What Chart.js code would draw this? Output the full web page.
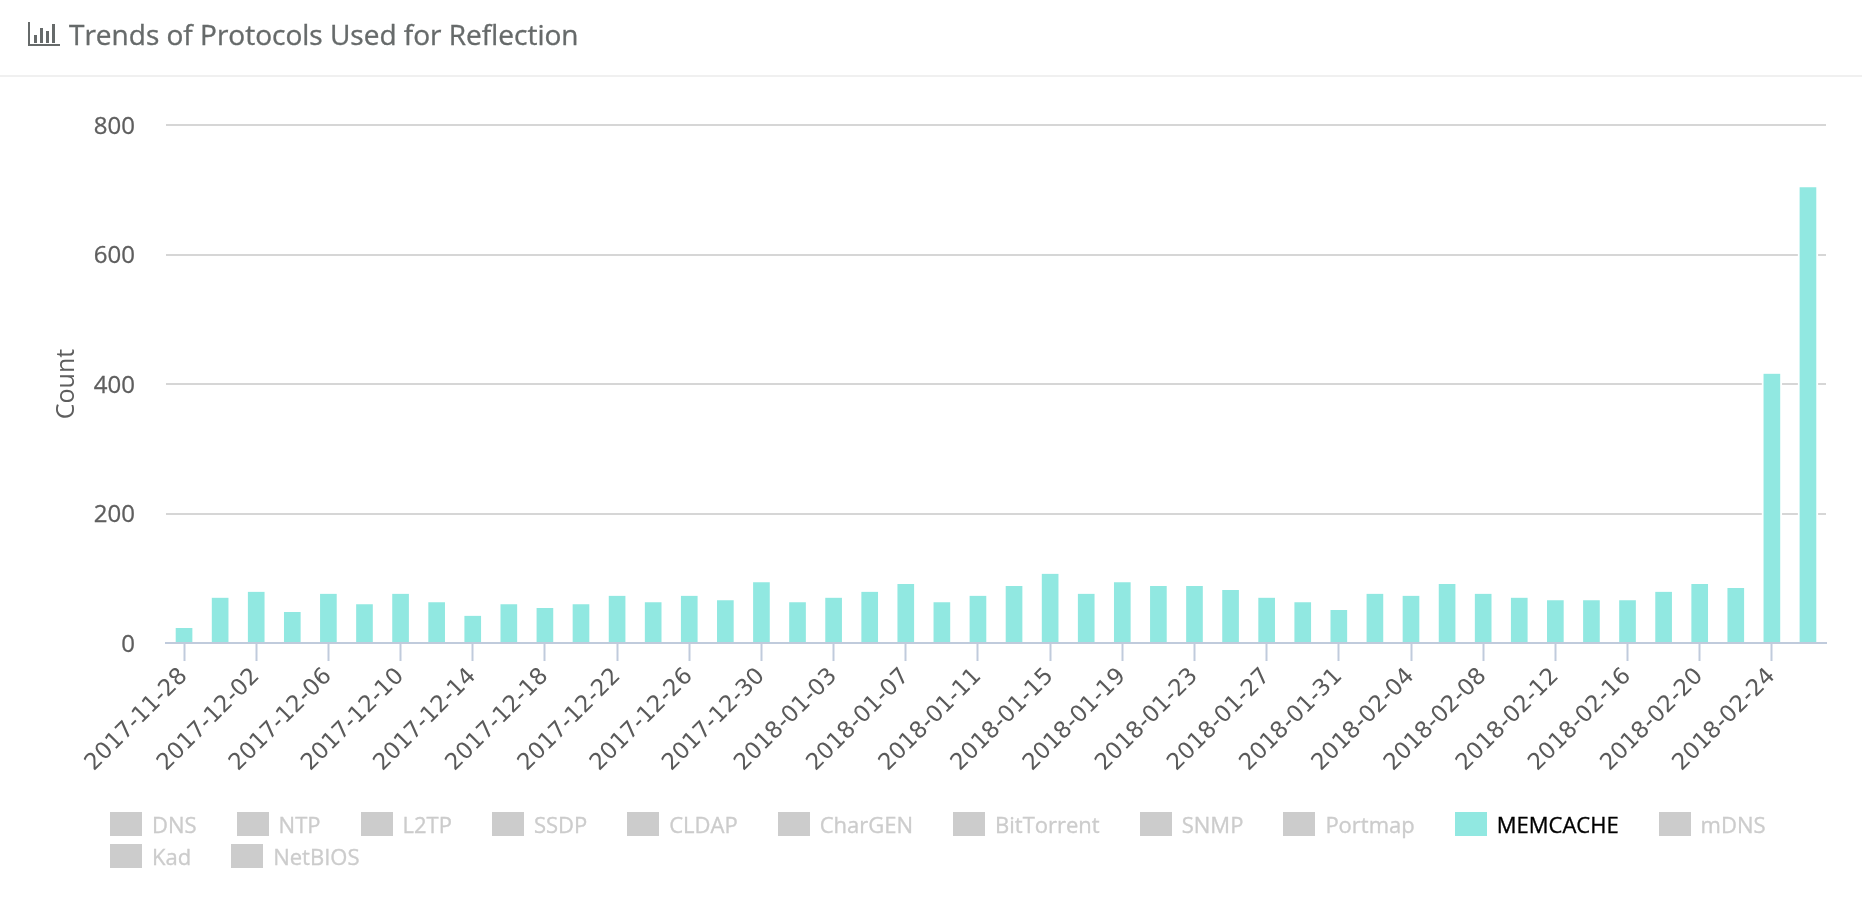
<!DOCTYPE html>
<html>
<head>
<meta charset="utf-8">
<script src="https://cdn.jsdelivr.net/npm/chart.js@4"></script>
<style>
html,body{margin:0;padding:0;background:#fff;width:1862px;height:922px;overflow:hidden;font-family:"Open Sans",sans-serif}
#header{position:absolute;left:0;top:0;width:1862px;height:75px;border-bottom:2px solid #f0f0f0;box-sizing:content-box}
#header svg{position:absolute;left:28px;top:22px}
#header h1{position:absolute;left:69px;top:14px;margin:0;font-size:28px;line-height:40px;font-weight:400;color:#666a6a;white-space:nowrap;-webkit-text-stroke:0.35px #666a6a}
#wrap{position:absolute;left:0;top:0;width:1862px;height:922px}
#legend{position:absolute;left:110px;top:812px;width:1700px;display:flex;flex-wrap:wrap;row-gap:4px}
.item{display:flex;align-items:center;height:24px;margin-right:40px;font-size:22px;white-space:nowrap;-webkit-text-stroke:0.35px currentColor}
.item i{display:block;width:32px;height:24px;margin-right:10px}
</style>
</head>
<body>
<div id="wrap"><canvas id="c" width="1862" height="922"></canvas></div>
<div id="header">
<svg width="32" height="24" viewBox="0 0 32 24"><path d="M1 0V23H32" fill="none" stroke="#666a6a" stroke-width="2"/><rect x="6" y="13" width="3" height="8" fill="#666a6a"/><rect x="12" y="6" width="3" height="15" fill="#666a6a"/><rect x="18" y="9" width="3" height="12" fill="#666a6a"/><rect x="24" y="2" width="3" height="19" fill="#666a6a"/></svg>
<h1>Trends of Protocols Used for Reflection</h1>
</div>
<div id="legend"></div>
<script>
const titleText = "Trends of Protocols Used for Reflection";
const protocols = ["DNS","NTP","L2TP","SSDP","CLDAP","CharGEN","BitTorrent","SNMP","Portmap","MEMCACHE","mDNS","Kad","NetBIOS"];
const activeProtocol = "MEMCACHE";
const dates = ["2017-11-28","2017-11-30","2017-12-02","2017-12-04","2017-12-06","2017-12-08","2017-12-10","2017-12-12","2017-12-14","2017-12-16","2017-12-18","2017-12-20","2017-12-22","2017-12-24","2017-12-26","2017-12-28","2017-12-30","2018-01-01","2018-01-03","2018-01-05","2018-01-07","2018-01-09","2018-01-11","2018-01-13","2018-01-15","2018-01-17","2018-01-19","2018-01-21","2018-01-23","2018-01-25","2018-01-27","2018-01-29","2018-01-31","2018-02-02","2018-02-04","2018-02-06","2018-02-08","2018-02-10","2018-02-12","2018-02-14","2018-02-16","2018-02-18","2018-02-20","2018-02-22","2018-02-24","2018-02-26"];
const memcache = [23,70,79,48,76,60,76,63,42,60,54,60,73,63,73,66,94,63,70,79,91,63,73,88,107,76,94,88,88,82,70,63,51,76,73,91,76,70,66,66,66,79,91,85,416,704];
const activeColor = "#91e8e1";
const hiddenColor = "#cccccc";

const chart = new Chart(document.getElementById("c"), {
  type: "bar",
  data: {
    labels: dates,
    datasets: protocols.map(name => ({
      label: name,
      data: name === activeProtocol ? memcache : [],
      hidden: name !== activeProtocol,
      backgroundColor: activeColor,
      borderColor: "#ffffff",
      borderWidth: {left: 2, right: 2, top: 0, bottom: 0},
      borderSkipped: false,
      barThickness: 20
    }))
  },
  options: {
    responsive: false,
    animation: false,
    devicePixelRatio: 1,
    layout: {padding: {left: 40, top: 125, right: 36, bottom: 0}},
    plugins: {legend: {display: false}, title: {display: false}, tooltip: {enabled: false}},
    scales: {
      x: {
        offset: true,
        afterBuildTicks: axis => { axis.ticks = axis.ticks.filter((t, i) => i % 2 === 0); },
        afterFit: axis => { axis.height = 279; },
        grid: {drawOnChartArea: false, offset: false, tickLength: 18, tickWidth: 2, tickColor: "#c0cbdc"},
        border: {display: true, color: "#c0cbdc", width: 2, z: 1},
        ticks: {autoSkip: false, maxRotation: 45, minRotation: 45, padding: 2, color: "#5a5a5a", font: {family: "DejaVu Sans", size: 23}}
      },
      y: {
        min: 0, max: 800,
        afterFit: axis => { axis.width = 126; },
        grid: {drawTicks: false, color: "#d6d6d6", lineWidth: 2},
        border: {display: false},
        ticks: {stepSize: 200, padding: 31, labelOffset: 2, color: "#5e5e5e", textStrokeColor: "#5e5e5e", textStrokeWidth: 0.3, font: {family: "Open Sans", size: 24}},
        title: {display: true, text: "Count", color: "#5e5e5e", font: {family: "Open Sans", size: 25}, padding: {top: 12, bottom: 0}}
      }
    }
  }
});

const legend = document.getElementById("legend");
chart.data.datasets.forEach(ds => {
  const item = document.createElement("div");
  item.className = "item";
  const swatch = document.createElement("i");
  swatch.style.background = ds.hidden ? hiddenColor : activeColor;
  const label = document.createElement("span");
  label.textContent = ds.label;
  label.style.color = ds.hidden ? hiddenColor : "#000000";
  item.append(swatch, label);
  legend.appendChild(item);
  if (ds.label === "mDNS") {
    const br = document.createElement("div");
    br.style.flexBasis = "100%";
    legend.appendChild(br);
  }
});
</script>
</body>
</html>
